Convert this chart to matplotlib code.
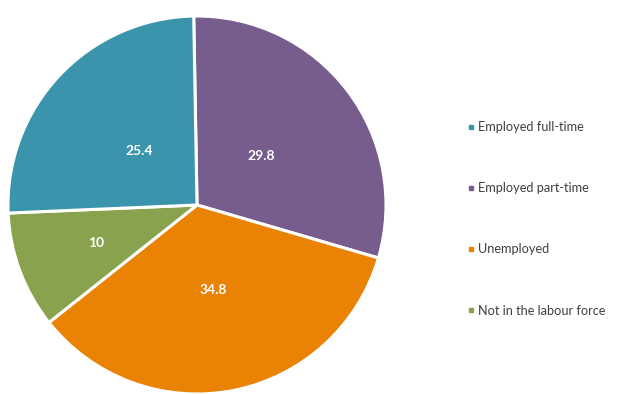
import numpy as np
import matplotlib.pyplot as plt
from matplotlib.lines import Line2D

# data (order drawn clockwise from the top)
categories = ['Employed part-time', 'Unemployed', 'Not in the labour force', 'Employed full-time']
values = [29.8, 34.8, 10, 25.4]
colors = ['#765d8d', '#ea8204', '#89a24d', '#3a94ab']
legend_order = ['Employed full-time', 'Employed part-time', 'Unemployed', 'Not in the labour force']

# label distance from centre (fraction of radius), per slice
label_dist = [0.43, 0.46, 0.57, 0.42]

fig = plt.figure(figsize=(6.26, 3.94), dpi=100)
ax = fig.add_axes([197/626 - 189/626, (394 - 205 - 191)/394, 378/626, 382/394])

wedges, _ = ax.pie(values, colors=colors, startangle=91, counterclock=False,
                   wedgeprops={'edgecolor': 'white', 'linewidth': 2.2})
ax.set_xlim(-1, 1)
ax.set_ylim(-1, 1)
ax.set_aspect('equal')
ax.axis('off')

# value labels inside the slices
for w, v, d in zip(wedges, values, label_dist):
    ang = np.deg2rad((w.theta1 + w.theta2) / 2)
    ax.text(d * np.cos(ang), d * np.sin(ang), f'{v:g}', color='white',
            fontsize=10, fontweight='bold', family='Lato', ha='center', va='center')

# legend with small square markers
handles = []
for name in legend_order:
    c = colors[categories.index(name)]
    handles.append(Line2D([], [], marker='s', color=c, linestyle='', markersize=2.8))
fig.legend(handles, legend_order, loc='upper left', bbox_to_anchor=(468/626, 1 - 121/394),
           frameon=False, borderpad=0, borderaxespad=0,
           handlelength=0.4, handletextpad=0.35, labelspacing=3.85,
           prop={'family': 'Lato', 'size': 9.2}, labelcolor='#404040')

fig.savefig('out.png', dpi=100)
